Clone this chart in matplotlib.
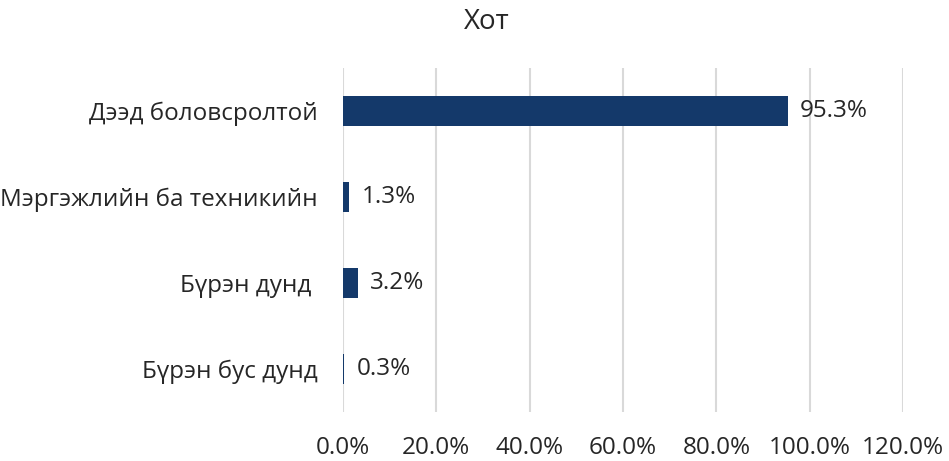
import matplotlib.pyplot as plt
from matplotlib.ticker import FuncFormatter

# -----------------------------
# Data
# -----------------------------
categories = ["Дээд боловсролтой", "Мэргэжлийн ба техникийн", "Бүрэн дунд ", "Бүрэн бус дунд"]
values = [95.3, 1.3, 3.2, 0.3]

plt.rcParams["font.family"] = ["Open Sans", "DejaVu Sans"]

fig = plt.figure(figsize=(9.49, 4.61), dpi=100)
ax = fig.add_axes([343 / 949, 1 - 412 / 461, 560 / 949, 344 / 461])

y = list(range(len(categories)))
bars = ax.barh(y, values, height=0.35, color="#14396A", zorder=3)
ax.bar_label(bars, labels=[f"{v:.1f}%" for v in values], padding=9,
             fontsize=17.5, color="#262626")

ax.set_yticks(y)
ax.set_yticklabels(categories)
ax.invert_yaxis()
ax.set_ylim(3.5, -0.5)

ax.set_xlim(0, 120)
ax.set_xticks(range(0, 121, 20))
ax.xaxis.set_major_formatter(FuncFormatter(lambda v, p: f"{v:.1f}%"))
ax.grid(axis="x", color="#D9D9D9", linewidth=1.5, zorder=0)

for s in ["top", "right", "bottom", "left"]:
    ax.spines[s].set_visible(False)
ax.tick_params(axis="both", length=0, labelsize=17.5, labelcolor="#262626")
ax.tick_params(axis="x", pad=17)
ax.tick_params(axis="y", pad=18)

fig.text(487 / 949, 1 - 22 / 461, "Хот", ha="center", va="center",
         fontsize=20, color="#262626")

fig.savefig("out.png", dpi=100)
